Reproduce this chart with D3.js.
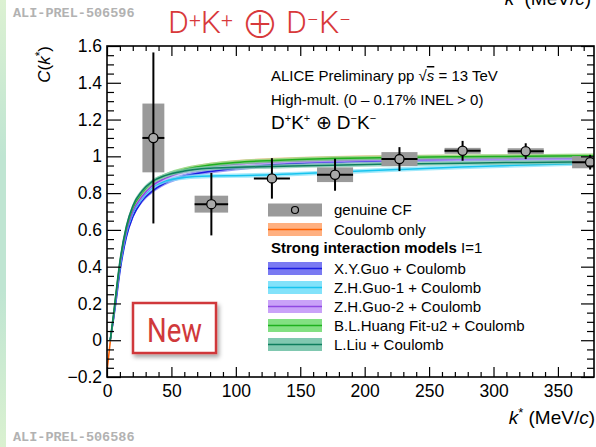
<!DOCTYPE html>
<html>
<head>
<meta charset="utf-8">
<script src="https://cdn.jsdelivr.net/npm/d3@7"></script>
<style>
  html, body { margin: 0; padding: 0; background: #fff; }
  svg { display: block; }
  text { font-family: "Liberation Sans", Arial, Helvetica, sans-serif; }
</style>
</head>
<body>
<div id="chart"></div>
<script>
// ---- measured correlation function D+K+ (+) D-K- ----
const kStar    = [36, 81, 128, 177, 227, 276, 325, 375];
const cfValue  = [1.10, 0.74, 0.88, 0.90, 0.985, 1.03, 1.028, 0.968];
const statErrY = [0.465, 0.17, 0.11, 0.087, 0.065, 0.054, 0.043, 0.04];
const statErrX = [8.5, 13, 14, 14, 14, 14, 14, 14];
const systErrY = [0.187, 0.046, 0.0, 0.04, 0.038, 0.016, 0.016, 0.033];
const systErrX = [8.5, 13, 14, 14, 14, 14, 14, 14];

// ---- model curves (k*, C) ----
const coulombK   = [0.3, 2.5, 5, 7, 10, 15, 20, 27, 35, 45, 60, 80, 100, 130, 175, 225, 275, 325, 378];
const coulombC   = [-0.15, -0.01, 0.12, 0.24, 0.41, 0.60, 0.71, 0.795, 0.855, 0.893, 0.927, 0.953, 0.968, 0.98, 0.99, 0.995, 0.998, 1.0, 1.002];
const modelK     = [2.5, 5, 7, 10, 15, 20, 27, 35, 45, 60, 80, 100, 130, 175, 225, 275, 325, 378];
const xyGuoC     = [0.00, 0.11, 0.21, 0.37, 0.56, 0.67, 0.755, 0.81, 0.855, 0.893, 0.918, 0.935, 0.955, 0.97, 0.978, 0.984, 0.988, 0.99];
const zhGuo1C    = [0.00, 0.12, 0.23, 0.39, 0.58, 0.69, 0.77, 0.83, 0.865, 0.885, 0.893, 0.895, 0.90, 0.913, 0.928, 0.942, 0.953, 0.963];
const zhGuo2C    = [0.00, 0.12, 0.23, 0.40, 0.59, 0.70, 0.78, 0.84, 0.88, 0.918, 0.945, 0.958, 0.97, 0.98, 0.986, 0.99, 0.993, 0.995];
const blHuangC   = [0.00, 0.13, 0.25, 0.42, 0.61, 0.72, 0.80, 0.858, 0.895, 0.928, 0.953, 0.967, 0.978, 0.988, 0.994, 0.998, 1.0, 1.003];
const lLiuC      = [0.00, 0.14, 0.26, 0.43, 0.62, 0.73, 0.81, 0.862, 0.895, 0.92, 0.935, 0.94, 0.945, 0.952, 0.958, 0.963, 0.967, 0.97];

// ---- axes ----
const xDomain = [0, 378];
const yDomain = [-0.2, 1.6];
const xTicks = [0, 50, 100, 150, 200, 250, 300, 350];
const xTickLabels = ["0", "50", "100", "150", "200", "250", "300", "350"];
const yTicks = [-0.2, 0, 0.2, 0.4, 0.6, 0.8, 1.0, 1.2, 1.4, 1.6];
const yTickLabels = ["\u22120.2", "0", "0.2", "0.4", "0.6", "0.8", "1", "1.2", "1.4", "1.6"];

const models = [
  { name: "Coulomb only",               k: coulombK, c: coulombC, band: "#ffb080", line: "#ff6000" },
  { name: "X.Y.Guo + Coulomb",          k: modelK,   c: xyGuoC,   band: "#7a7af2", line: "#1c1ce0" },
  { name: "Z.H.Guo-1 + Coulomb",        k: modelK,   c: zhGuo1C,  band: "#82e2fa", line: "#18c4ee" },
  { name: "Z.H.Guo-2 + Coulomb",        k: modelK,   c: zhGuo2C,  band: "#c9a2f8", line: "#9048e2" },
  { name: "B.L.Huang Fit-u2 + Coulomb", k: modelK,   c: blHuangC, band: "#82e082", line: "#1eb01e" },
  { name: "L.Liu + Coulomb",            k: modelK,   c: lLiuC,    band: "#80c8b0", line: "#0e7e5e" }
];

const W = 596, H = 447;
const svg = d3.select("#chart").append("svg").attr("width", W).attr("height", H);

// slide edge strip
const defs = svg.append("defs");
const grad = defs.append("linearGradient").attr("id", "edge").attr("x1", 0).attr("y1", 0).attr("x2", 0).attr("y2", 1);
[["0%", "#dcf1d2"], ["35%", "#bfe5d2"], ["65%", "#bfe5d2"], ["100%", "#daf1d0"]]
  .forEach(([o, c]) => grad.append("stop").attr("offset", o).attr("stop-color", c));
svg.append("rect").attr("x", 0).attr("y", 0).attr("width", 6).attr("height", H).attr("fill", "url(#edge)");

const frame = { left: 107, right: 594, top: 46, bottom: 377 };
const x = d3.scaleLinear().domain(xDomain).range([frame.left, frame.right]);
const y = d3.scaleLinear().domain(yDomain).range([frame.bottom, frame.top]);

defs.append("clipPath").attr("id", "plotclip").append("rect")
  .attr("x", frame.left).attr("y", frame.top)
  .attr("width", frame.right - frame.left).attr("height", frame.bottom - frame.top);

// labels on the slide
svg.append("text").attr("x", 13).attr("y", 17)
  .style("font-family", "'Liberation Mono', 'DejaVu Sans Mono', monospace")
  .style("font-weight", "bold").style("font-size", "13.5px").attr("fill", "#b2b2b2")
  .text("ALI-PREL-506596");
svg.append("text").attr("x", 13).attr("y", 441)
  .style("font-family", "'Liberation Mono', 'DejaVu Sans Mono', monospace")
  .style("font-weight", "bold").style("font-size", "13.5px").attr("fill", "#b2b2b2")
  .text("ALI-PREL-506586");

// partially visible axis title of the panel above
const topTitle = svg.append("text").attr("x", 591).attr("y", 5).attr("text-anchor", "end")
  .style("font-size", "19px").attr("fill", "#000");
topTitle.append("tspan").style("font-style", "italic").text("k");
topTitle.append("tspan").attr("dy", -7).style("font-size", "13px").text("*");
topTitle.append("tspan").attr("dy", 7).text(" (MeV/");
topTitle.append("tspan").style("font-style", "italic").text("c");
topTitle.append("tspan").text(")");

// red slide title
const red = "#d8393b";
const tFont = "Roboto, 'Open Sans', sans-serif";
const t1 = svg.append("text").attr("x", 168).attr("y", 33).attr("fill", red)
  .style("font-family", tFont).style("font-weight", 300).style("font-size", "32px");
t1.append("tspan").text("D");
t1.append("tspan").attr("dy", -6).style("font-size", "21px").text("+");
t1.append("tspan").attr("dy", 6).text("K");
t1.append("tspan").attr("dy", -6).style("font-size", "21px").text("+");
svg.append("text").attr("x", 260).attr("y", 38).attr("text-anchor", "middle").attr("fill", red)
  .style("font-family", "'Noto Sans CJK SC', 'DejaVu Sans', sans-serif").style("font-weight", 300).style("font-size", "38px").text("\u2295");
const t2 = svg.append("text").attr("x", 286).attr("y", 33).attr("fill", red)
  .style("font-family", tFont).style("font-weight", 300).style("font-size", "32px");
t2.append("tspan").text("D");
t2.append("tspan").attr("dy", -6).style("font-size", "21px").text("\u2212");
t2.append("tspan").attr("dy", 6).text("K");
t2.append("tspan").attr("dy", -6).style("font-size", "21px").text("\u2212");

// ---- model bands and lines ----
const bandHalf = 0.012;
const plot = svg.append("g").attr("clip-path", "url(#plotclip)");
models.forEach(m => {
  const pts = m.k.map((k, i) => [k, m.c[i]]);
  plot.append("path").datum(pts)
    .attr("d", d3.area().x(d => x(d[0])).y0(d => y(d[1] - bandHalf)).y1(d => y(d[1] + bandHalf)).curve(d3.curveMonotoneX))
    .attr("fill", m.band).attr("fill-opacity", 0.75);
  plot.append("path").datum(pts)
    .attr("d", d3.line().x(d => x(d[0])).y(d => y(d[1])).curve(d3.curveMonotoneX))
    .attr("fill", "none").attr("stroke", m.line).attr("stroke-width", 1.5);
});

// ---- data: systematic boxes, statistical bars, markers ----
const pts = kStar.map((k, i) => ({ k, c: cfValue[i], sy: statErrY[i], sx: statErrX[i], ey: systErrY[i], ex: systErrX[i] }));
plot.selectAll("rect.syst").data(pts.filter(d => d.ey > 0)).join("rect").attr("class", "syst")
  .attr("x", d => x(d.k - d.ex)).attr("width", d => x(d.k + d.ex) - x(d.k - d.ex))
  .attr("y", d => y(d.c + d.ey)).attr("height", d => y(d.c - d.ey) - y(d.c + d.ey))
  .attr("fill", "#9a9a9a");
plot.selectAll("line.sy").data(pts).join("line").attr("class", "sy")
  .attr("x1", d => x(d.k)).attr("x2", d => x(d.k))
  .attr("y1", d => y(d.c + d.sy)).attr("y2", d => y(d.c - d.sy))
  .attr("stroke", "#000").attr("stroke-width", 2);
plot.selectAll("line.sx").data(pts).join("line").attr("class", "sx")
  .attr("x1", d => x(d.k - d.sx)).attr("x2", d => x(d.k + d.sx))
  .attr("y1", d => y(d.c)).attr("y2", d => y(d.c))
  .attr("stroke", "#000").attr("stroke-width", 2);
plot.selectAll("circle.pt").data(pts).join("circle").attr("class", "pt")
  .attr("cx", d => x(d.k)).attr("cy", d => y(d.c)).attr("r", 4.6)
  .attr("fill", "#a9a9a9").attr("stroke", "#000").attr("stroke-width", 1.3);

// ---- frame and ticks ----
const xMinor = d3.range(0, 378, 10).filter(v => v % 50 !== 0);
const yMinor = d3.range(-0.2, 1.6001, 0.05).filter(v => Math.abs(Math.round(v * 5) - v * 5) > 1e-6);

function styleAxis(g) {
  g.select(".domain").remove();
  g.selectAll(".tick line").attr("stroke", "#000").attr("stroke-width", 1.2);
  g.selectAll(".tick text").attr("fill", "#000")
    .style("font-family", "'Liberation Sans', Arial, sans-serif").style("font-size", "17.5px");
}
svg.append("g").attr("transform", `translate(0,${frame.bottom})`)
  .call(d3.axisBottom(x).tickValues(xTicks).tickFormat((d, i) => xTickLabels[i]).tickSizeInner(-10).tickSizeOuter(0).tickPadding(8))
  .call(styleAxis);
svg.append("g").attr("transform", `translate(0,${frame.bottom})`)
  .call(d3.axisBottom(x).tickValues(xMinor).tickFormat("").tickSizeInner(-5).tickSizeOuter(0)).call(styleAxis);
svg.append("g").attr("transform", `translate(0,${frame.top})`)
  .call(d3.axisTop(x).tickValues(xTicks).tickFormat("").tickSizeInner(-10).tickSizeOuter(0)).call(styleAxis);
svg.append("g").attr("transform", `translate(0,${frame.top})`)
  .call(d3.axisTop(x).tickValues(xMinor).tickFormat("").tickSizeInner(-5).tickSizeOuter(0)).call(styleAxis);
svg.append("g").attr("transform", `translate(${frame.left},0)`)
  .call(d3.axisLeft(y).tickValues(yTicks).tickFormat((d, i) => yTickLabels[i]).tickSizeInner(-14).tickSizeOuter(0).tickPadding(5))
  .call(styleAxis);
svg.append("g").attr("transform", `translate(${frame.left},0)`)
  .call(d3.axisLeft(y).tickValues(yMinor).tickFormat("").tickSizeInner(-7).tickSizeOuter(0)).call(styleAxis);
svg.append("g").attr("transform", `translate(${frame.right},0)`)
  .call(d3.axisRight(y).tickValues(yTicks).tickFormat("").tickSizeInner(-13).tickSizeOuter(0)).call(styleAxis);
svg.append("g").attr("transform", `translate(${frame.right},0)`)
  .call(d3.axisRight(y).tickValues(yMinor).tickFormat("").tickSizeInner(-7).tickSizeOuter(0)).call(styleAxis);

svg.append("rect").attr("x", frame.left).attr("y", frame.top)
  .attr("width", frame.right - frame.left).attr("height", frame.bottom - frame.top)
  .attr("fill", "none").attr("stroke", "#000").attr("stroke-width", 1.6);

// axis titles
const xt = svg.append("text").attr("x", 595).attr("y", 424).attr("text-anchor", "end").style("font-size", "19px");
xt.append("tspan").style("font-style", "italic").text("k");
xt.append("tspan").attr("dy", -7).style("font-size", "13px").text("*");
xt.append("tspan").attr("dy", 7).text(" (MeV/");
xt.append("tspan").style("font-style", "italic").text("c");
xt.append("tspan").text(")");

const yt = svg.append("text").attr("transform", "translate(50,46) rotate(-90)").attr("text-anchor", "end").style("font-size", "17px");
yt.append("tspan").style("font-style", "italic").text("C");
yt.append("tspan").text("(");
yt.append("tspan").style("font-style", "italic").text("k");
yt.append("tspan").attr("dy", -6).style("font-size", "12px").text("*");
yt.append("tspan").attr("dy", 6).text(")");

// ---- header text ----
const h1 = svg.append("text").attr("x", 271).attr("y", 81).style("font-size", "15px");
h1.append("tspan").text("ALICE Preliminary pp ");
h1.append("tspan").text("\u221A");
h1.append("tspan").style("font-style", "italic").style("text-decoration", "overline").text("s");
h1.append("tspan").text(" = 13 TeV");
svg.append("text").attr("x", 271).attr("y", 105).style("font-size", "15px")
  .text("High-mult. (0 \u2013 0.17% INEL > 0)");
const h3 = svg.append("text").attr("x", 271).attr("y", 129).style("font-size", "19px");
h3.append("tspan").text("D");
h3.append("tspan").attr("dy", -7).style("font-size", "11px").text("+");
h3.append("tspan").attr("dy", 7).text("K");
h3.append("tspan").attr("dy", -7).style("font-size", "11px").text("+");
h3.append("tspan").attr("dy", 7).text(" \u2295 D");
h3.append("tspan").attr("dy", -7).style("font-size", "11px").text("\u2212");
h3.append("tspan").attr("dy", 7).text("K");
h3.append("tspan").attr("dy", -7).style("font-size", "11px").text("\u2212");

// ---- legend ----
const lg = svg.append("g");
const boxX = 268, boxW = 54, boxH = 13, textX = 334;
// genuine CF
lg.append("rect").attr("x", boxX).attr("y", 210 - boxH / 2).attr("width", boxW).attr("height", boxH).attr("fill", "#9a9a9a");
lg.append("circle").attr("cx", boxX + boxW / 2).attr("cy", 210).attr("r", 3.5).attr("fill", "none").attr("stroke", "#000").attr("stroke-width", 1.2);
lg.append("text").attr("x", textX).attr("y", 215).style("font-size", "15px").text("genuine CF");
// model rows
const rowY = [229.5, 268.5, 287.5, 306.5, 325.5, 344.5];
models.forEach((m, i) => {
  const cy = rowY[i];
  lg.append("rect").attr("x", boxX).attr("y", cy - boxH / 2).attr("width", boxW).attr("height", boxH).attr("fill", m.band);
  lg.append("line").attr("x1", boxX).attr("x2", boxX + boxW).attr("y1", cy).attr("y2", cy).attr("stroke", m.line).attr("stroke-width", 1.5);
  lg.append("text").attr("x", textX).attr("y", cy + 5).style("font-size", "15px").text(m.name);
});
const hd = lg.append("text").attr("x", 271).attr("y", 253).style("font-size", "15px");
hd.append("tspan").style("font-weight", "bold").text("Strong interaction models ");
hd.append("tspan").text("I=1");

// ---- "New" badge ----
const shadow = defs.append("filter").attr("id", "shadow").attr("x", "-20%").attr("y", "-20%").attr("width", "140%").attr("height", "150%");
shadow.append("feDropShadow").attr("dx", 2).attr("dy", 3).attr("stdDeviation", 2).attr("flood-color", "#000").attr("flood-opacity", 0.35);
svg.append("rect").attr("x", 133).attr("y", 303).attr("width", 83).attr("height", 50)
  .attr("fill", "#fff").attr("stroke", "#d0393b").attr("stroke-width", 2.5).attr("filter", "url(#shadow)");
svg.append("text").attr("x", 147).attr("y", 342).attr("fill", "#d0393b")
  .style("font-family", tFont).style("font-size", "33px")
  .attr("textLength", 55).attr("lengthAdjust", "spacingAndGlyphs").text("New");
</script>
</body>
</html>
